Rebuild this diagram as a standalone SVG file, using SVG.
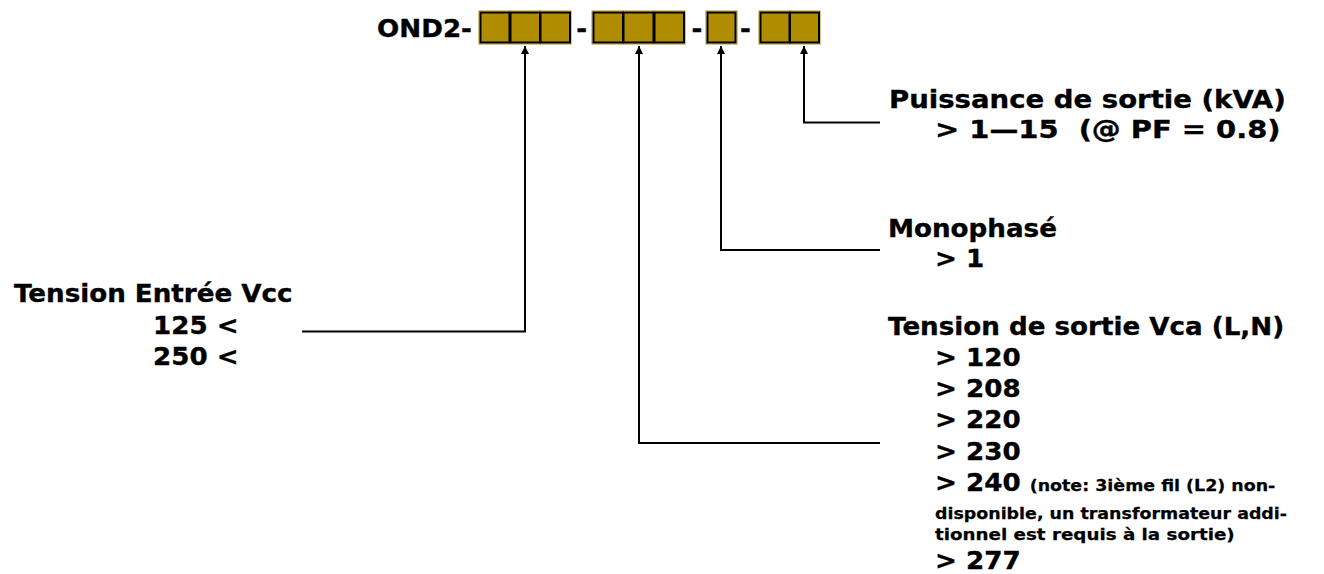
<svg xmlns="http://www.w3.org/2000/svg" width="1324" height="574" viewBox="0 0 1324 574">
<defs>
<style>
.t{font-family:"DejaVu Sans",Verdana,sans-serif;font-weight:bold;font-size:24px;fill:#000;stroke:#000;stroke-width:0.35px;white-space:pre}
.n{font-size:16px;stroke-width:0.25px}
.box{fill:#B08C00;stroke:#000;stroke-width:2}
.out{fill:none;stroke:#B08C00;stroke-width:1}
.c{fill:none;stroke:#000;stroke-width:2}
</style>
<marker id="ah" viewBox="0 0 10 10" refX="10" refY="5" markerWidth="4" markerHeight="4" orient="auto" markerUnits="strokeWidth">
<path d="M0,0 L10,5 L0,10 z" fill="#000"/>
</marker>
</defs>
<rect width="1324" height="574" fill="#fff"/>
<g id="code">
<g transform="scale(1.09,1)">
<text class="t" x="433" y="37" text-anchor="end">OND2-</text>
<text class="t" x="533.7" y="37" text-anchor="middle">-</text>
<text class="t" x="639.4" y="37" text-anchor="middle">-</text>
<text class="t" x="684" y="37" text-anchor="middle">-</text>
</g>
<rect class="out" x="479" y="11" width="92" height="33"/>
<rect class="box" x="480.5" y="12.5" width="29" height="30"/>
<rect class="box" x="510.5" y="12.5" width="29.5" height="30"/>
<rect class="box" x="540.5" y="12.5" width="29.5" height="30"/>
<rect class="out" x="592" y="11" width="93" height="33"/>
<rect class="box" x="593.5" y="12.5" width="29.5" height="30"/>
<rect class="box" x="623.5" y="12.5" width="30" height="30"/>
<rect class="box" x="654.5" y="12.5" width="29.5" height="30"/>
<rect class="out" x="706" y="11" width="31" height="33"/>
<rect class="box" x="707.5" y="12.5" width="28" height="30"/>
<rect class="out" x="759" y="11" width="61" height="33"/>
<rect class="box" x="760.5" y="12.5" width="29" height="30"/>
<rect class="box" x="790" y="12.5" width="29" height="30"/>
</g>
<g id="connectors">
<path class="c" d="M302,331.5 H525 V46" marker-end="url(#ah)"/>
<path class="c" d="M880,443 H639 V46" marker-end="url(#ah)"/>
<path class="c" d="M880,250 H721 V46" marker-end="url(#ah)"/>
<path class="c" d="M880,122.5 H804 V46" marker-end="url(#ah)"/>
</g>
<g id="input-voltage" transform="scale(1.09,1)">
<text class="t" x="12.8" y="302">Tension Entrée Vcc</text>
<text class="t" x="140.4" y="334">125 &lt;</text>
<text class="t" x="140.4" y="365">250 &lt;</text>
</g>
<g id="power" transform="scale(1.09,1)">
<text class="t" x="815.6" y="108" textLength="364" lengthAdjust="spacingAndGlyphs">Puissance de sortie (kVA)</text>
<text class="t" x="857.8" y="138" textLength="317" lengthAdjust="spacingAndGlyphs">&gt; 1—15  (@ PF = 0.8)</text>
</g>
<g id="phase" transform="scale(1.09,1)">
<text class="t" x="814.7" y="237">Monophasé</text>
<text class="t" x="857.8" y="267">&gt; 1</text>
</g>
<g id="output-voltage" transform="scale(1.09,1)">
<text class="t" x="814.7" y="335">Tension de sortie Vca (L,N)</text>
<text class="t" x="857.8" y="366">&gt; 120</text>
<text class="t" x="857.8" y="397">&gt; 208</text>
<text class="t" x="857.8" y="428">&gt; 220</text>
<text class="t" x="857.8" y="460">&gt; 230</text>
<text class="t" x="857.8" y="491">&gt; 240 <tspan class="n">(note: 3ième fil (L2) non-</tspan></text>
<text class="t n" x="857.8" y="519">disponible, un transformateur addi-</text>
<text class="t n" x="857.8" y="540" textLength="275" lengthAdjust="spacingAndGlyphs">tionnel est requis à la sortie)</text>
<text class="t" x="857.8" y="569">&gt; 277</text>
</g>
</svg>
